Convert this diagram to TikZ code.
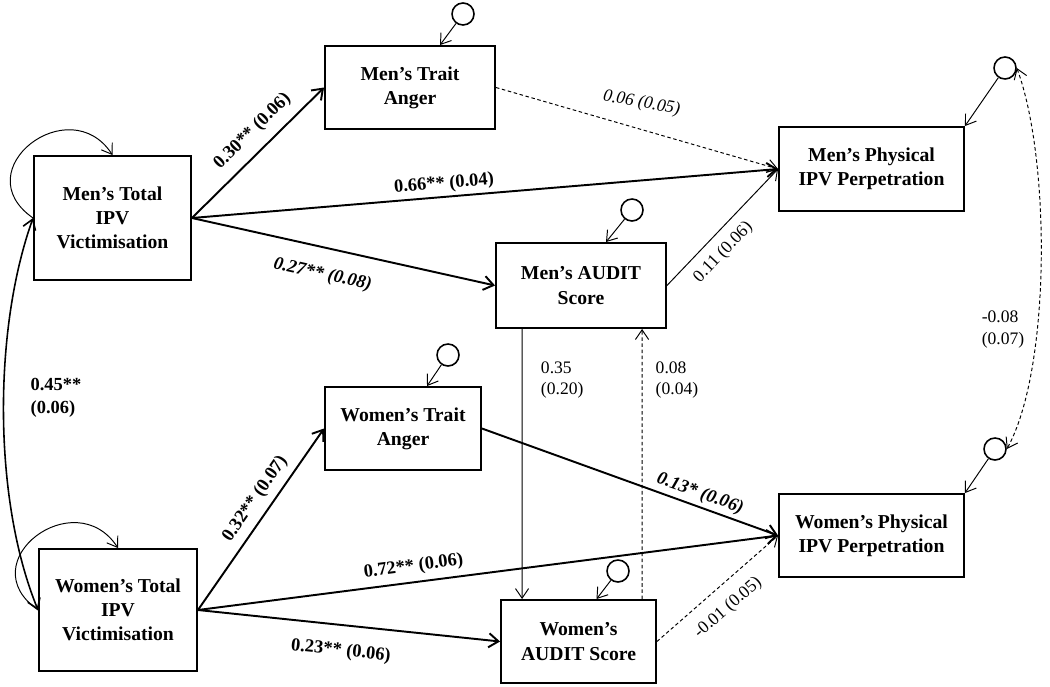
\documentclass[tikz,border=0pt]{standalone}
\usepackage{fontspec}
\setmainfont{Liberation Serif}
\usetikzlibrary{calc,arrows.meta}

\begin{document}
\begin{tikzpicture}[x=0.02cm,y=-0.02cm,
    var/.style={draw,line width=1.1pt,inner sep=0pt,align=center,
        font=\fontsize{11.2}{13.75}\selectfont\bfseries},
    err/.style={draw,circle,line width=0.9pt,minimum size=0.44cm,inner sep=0pt},
    effect/.style={line width=1.1pt,-{Straight Barb[length=5.5pt,width=8pt]}},
    lite/.style={line width=0.55pt,-{Straight Barb[length=5.5pt,width=7.5pt]}},
    dotline/.style={dash pattern=on 2pt off 1.5pt},
    lbl/.style={font=\fontsize{10.5}{13}\selectfont\bfseries,inner sep=1pt},
    num/.style={font=\fontsize{10}{12}\selectfont,inner sep=1pt}]
    \useasboundingbox (0,0) rectangle (1050,686);

    \node[var,minimum width=3.14cm,minimum height=2.48cm] (mtv) at (112.5,218) {Men’s Total\\IPV\\Victimisation};
    \node[var,minimum width=3.16cm,minimum height=2.44cm] (wtv) at (118,610) {Women’s Total\\IPV\\Victimisation};
    \node[var,minimum width=3.4cm,minimum height=1.66cm] (mta) at (410,87.5) {Men’s Trait\\Anger};
    \node[var,minimum width=3.12cm,minimum height=1.66cm] (wta) at (403,428.5) {Women’s Trait\\Anger};
    \node[var,minimum width=3.4cm,minimum height=1.7cm] (maud) at (581,285.5) {Men’s AUDIT\\Score};
    \node[var,minimum width=3.1cm,minimum height=1.66cm] (waud) at (578.5,641.5) {Women’s\\AUDIT Score};
    \node[var,minimum width=3.7cm,minimum height=1.68cm] (mpp) at (871.5,169) {Men’s Physical\\IPV Perpetration};
    \node[var,minimum width=3.7cm,minimum height=1.66cm] (wpp) at (871.5,535.5) {Women’s Physical\\IPV Perpetration};

    \node[err] (emta) at (463,14) {};
    \node[err] (ewta) at (448,355) {};
    \node[err] (emaud) at (632,210) {};
    \node[err] (ewaud) at (618,571) {};
    \node[err] (empp) at (1005,68) {};
    \node[err] (ewpp) at (995,449) {};

    \draw[lite] (emta) -- ($(mta.north)+(30,0)$);
    \draw[lite] (ewta) -- ($(wta.north)+(24,0)$);
    \draw[lite] (emaud) -- ($(maud.north)+(25,0)$);
    \draw[lite] (ewaud) -- ($(waud.north)+(18,0)$);
    \draw[lite] (empp) -- (mpp.north east);
    \draw[lite] (ewpp) -- (wpp.north east);

    \draw[lite] (mtv.west) .. controls +(-69,-48) and +(-43,-66) .. (mtv.north);
    \draw[lite] (wtv.west) .. controls +(-69,-48) and +(-43,-66) .. (wtv.north);
    \draw[lite,line width=0.9pt,{Straight Barb[length=5.5pt,width=7.5pt]}-{Straight Barb[length=5.5pt,width=7.5pt]}]
        (mtv.west) .. controls +(-40,112) and +(-45,-110) .. (wtv.west);
    \node[lbl,align=left] (lcor) at (56,398) {0.45**\\(0.06)};

    \draw[effect] (mtv.east) -- (mta.west) node[lbl,sloped,pos=0.56,above=4.5pt] (l1) {0.30** (0.06)};
    \draw[effect] (mtv.east) -- (mpp.west) node[lbl,sloped,pos=0.432,above=1pt] (l2) {0.66** (0.04)};
    \draw[effect] (mtv.east) -- (maud.west) node[lbl,sloped,pos=0.45,below=9pt] (l3) {\itshape 0.27** (0.08)};
    \draw[lite,dotline] (mta.east) -- (mpp.west) node[num,pos=0.51,above=9pt,rotate=-10] (l4) {\itshape 0.06 (0.05)};
    \draw[lite] (maud.east) -- (mpp.west) node[num,sloped,pos=0.39,below=4.5pt] (l5) {0.11 (0.06)};
    \draw[lite] ($(maud.south west)+(27,0)$) -- ($(waud.north west)+(22,0)$)
        node[num,pos=0.19,right=9.5pt,align=left] (l6) {0.35\\(0.20)};
    \draw[lite,dotline] ($(waud.north west)+(142,0)$) -- ($(maud.south west)+(147,0)$)
        node[num,pos=0.81,right=6.5pt,align=left] (l7) {0.08\\(0.04)};

    \draw[effect] (wtv.east) -- (wta.west) node[lbl,sloped,pos=0.56,above=3pt] (l8) {0.32** (0.07)};
    \draw[effect] (wtv.east) -- (wpp.west) node[lbl,sloped,pos=0.375,above=2.5pt] (l9) {0.72** (0.06)};
    \draw[effect] (wtv.east) -- (waud.west) node[lbl,sloped,pos=0.482,below=8.5pt] (l10) {0.23** (0.06)};
    \draw[effect] (wta.east) -- (wpp.west) node[lbl,sloped,pos=0.722,above=1pt] (l11) {\itshape 0.13* (0.06)};
    \draw[lite,dotline] (waud.east) -- (wpp.west) node[num,sloped,pos=0.47,below=6.5pt] (l12) {-0.01 (0.05)};

    \draw[lite,dotline,{Straight Barb[length=5.5pt,width=7.5pt]}-{Straight Barb[length=5.5pt,width=7.5pt]}]
        (empp.east) .. controls +(34,92) and +(44,-79) .. (ewpp.east);
    \node[num,align=left,font=\fontsize{10}{12.5}\selectfont] (lres) at (1003,330) {-0.08\\(0.07)};
\end{tikzpicture}
\end{document}
